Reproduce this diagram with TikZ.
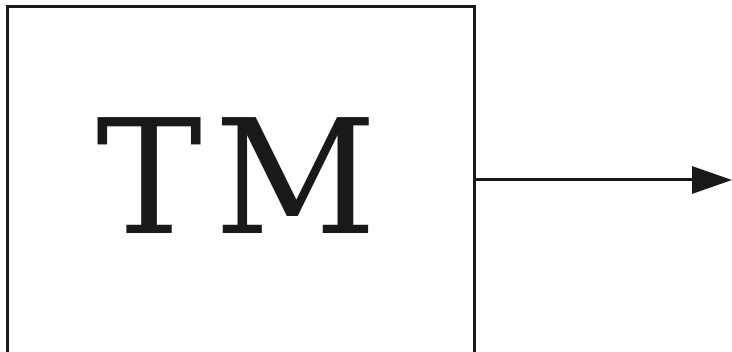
\documentclass[tikz,border=0pt]{standalone}
\usepackage{fontspec}
\usepackage{tikz}
\usetikzlibrary{arrows.meta, positioning}
\newfontfamily\tmfont{DejaVu Serif}

\begin{document}
\begin{tikzpicture}[x=1pt, y=1pt,
          tmbox/.style={draw=black!90, line width=3pt, minimum width=467pt,
                        minimum height=400pt, anchor=north west,
                        inner sep=0pt},
          arr/.style={-{Triangle[length=40pt, width=27pt]}, draw=black!90,
                      line width=3pt}
        ]
        \useasboundingbox (0,0) rectangle (732,352);

        % Machine box (runs off the bottom)
        \node[tmbox] (tm) at (5.5, 346.5) {};
        \node[font=\tmfont\fontsize{159}{160}\selectfont, text=black!90,
              anchor=base, inner sep=0pt]
              (lbl) at (236.5, 118) {T\kern12pt M};

        % Output
        \coordinate (out) at (732, 172);
        \draw[arr] (tm.east |- out) -- (out);
      \end{tikzpicture}
\end{document}
